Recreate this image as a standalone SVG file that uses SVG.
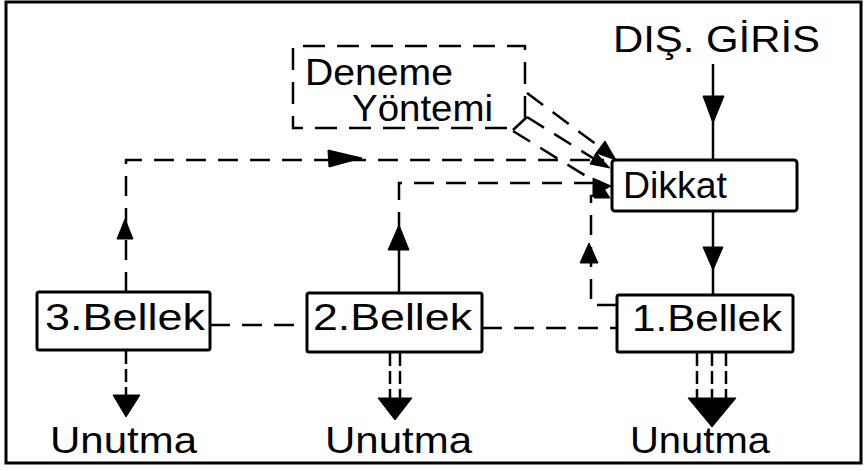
<svg xmlns="http://www.w3.org/2000/svg" width="864" height="471" viewBox="0 0 864 471">
<style>
.frame{fill:none;stroke:#000;stroke-width:3}
.box{fill:#fff;stroke:#000;stroke-width:3}
.dbox{fill:none;stroke:#000;stroke-width:2.5;stroke-dasharray:22 12}
.t{font-family:"Liberation Sans","DejaVu Sans",Arial,sans-serif;font-size:36px;fill:#000}
.solid{fill:none;stroke:#000;stroke-width:2.5}
.dash{fill:none;stroke:#000;stroke-width:2.5;stroke-dasharray:20 12}
.vdash{fill:none;stroke:#000;stroke-width:2.5;stroke-dasharray:13 5}
.ah{fill:#000;stroke:#000;stroke-width:1;stroke-linejoin:round}
</style>
<rect width="864" height="471" fill="#fff"/>
<rect class="frame" x="6" y="2" width="855" height="461"/>

<g id="connectors">
  <!-- DIS GIRIS -> Dikkat -->
  <line class="solid" x1="713" y1="64" x2="713" y2="160"/>
  <polygon class="ah" points="703,96 724,96 713,123"/>
  <!-- Dikkat -> 1.Bellek -->
  <line class="solid" x1="713" y1="211" x2="713" y2="295"/>
  <polygon class="ah" points="703,247 723,247 713,270"/>
  <!-- 1.Bellek -> Unutma -->
  <line class="vdash" x1="697" y1="353" x2="697" y2="400"/>
  <line class="vdash" x1="712" y1="353" x2="712" y2="400"/>
  <line class="vdash" x1="726" y1="353" x2="726" y2="400"/>
  <polygon class="ah" points="688,398 736,398 712,427"/>
  <!-- 2.Bellek -> Unutma -->
  <line class="vdash" x1="390" y1="353" x2="390" y2="400"/>
  <line class="vdash" x1="400" y1="353" x2="400" y2="400"/>
  <polygon class="ah" points="378,398 412,398 395,420"/>
  <!-- 3.Bellek -> Unutma -->
  <line class="vdash" x1="126" y1="351" x2="126" y2="397"/>
  <polygon class="ah" points="113,395 140,395 126,417"/>
  <!-- Bellek links -->
  <line class="dash" x1="210" y1="325" x2="307" y2="325"/>
  <line class="dash" x1="482" y1="328" x2="617" y2="328"/>
  <!-- 3.Bellek -> Dikkat -->
  <polyline class="dash" points="126,292 126,160 604,160"/>
  <polygon class="ah" points="117,239 133,239 125,219"/>
  <polygon class="ah" points="328,150 329,167 362,158"/>
  <!-- 2.Bellek -> Dikkat -->
  <polyline class="solid" points="399,293 399,250"/>
  <polyline class="dash" points="399,232 399,183 598,183"/>
  <polygon class="ah" points="388,250 409,250 399,225"/>
  <polygon class="ah" points="593,178 593,196 611,186"/>
  <!-- 1.Bellek feedback -> Dikkat -->
  <polyline class="dash" points="617,305 591,305 591,196 612,193"/>
  <polygon class="ah" points="580,263 598,263 589,243"/>
  <polygon class="ah" points="594,198 610,198 601,184"/>
  <!-- Deneme Yontemi -> Dikkat -->
  <polyline class="solid" points="513,130 527,117"/>
  <line class="dash" x1="527" y1="93" x2="601" y2="148"/>
  <polygon class="ah" points="596,153 605,141 616,160"/>
  <line class="dash" x1="527" y1="117" x2="596" y2="160"/>
  <polygon class="ah" points="590,164 596,153 610,168"/>
  <line class="dash" x1="513" y1="131" x2="594" y2="181"/>
</g>

<g id="dis-giris">
  <text class="t" x="613" y="52" font-size="37" textLength="207" lengthAdjust="spacingAndGlyphs">DIŞ. GİRİS</text>
</g>
<g id="deneme-yontemi">
  <path class="dbox" d="M525,118 L525,46 L293,46 L293,128 L513,128"/>
  <text class="t" x="305" y="85" font-size="34" textLength="148" lengthAdjust="spacingAndGlyphs">Deneme</text>
  <text class="t" x="352" y="121" font-size="34" textLength="141" lengthAdjust="spacingAndGlyphs">Yöntemi</text>
</g>
<g id="dikkat">
  <rect class="box" x="612" y="160" width="185" height="51" rx="3"/>
  <text class="t" x="623" y="198" textLength="104" lengthAdjust="spacingAndGlyphs">Dikkat</text>
</g>
<g id="bellek1">
  <rect class="box" x="617" y="295" width="176" height="57" rx="2"/>
  <text class="t" x="632" y="331" font-size="37" textLength="150" lengthAdjust="spacingAndGlyphs">1.Bellek</text>
</g>
<g id="bellek2">
  <rect class="box" x="307" y="293" width="175" height="59" rx="2"/>
  <text class="t" x="313" y="330" font-size="37" textLength="159" lengthAdjust="spacingAndGlyphs">2.Bellek</text>
</g>
<g id="bellek3">
  <rect class="box" x="37" y="292" width="173" height="58" rx="2"/>
  <text class="t" x="45" y="330" font-size="37" textLength="160" lengthAdjust="spacingAndGlyphs">3.Bellek</text>
</g>
<g id="unutma3">
  <text class="t" x="50" y="453" textLength="147" lengthAdjust="spacingAndGlyphs">Unutma</text>
</g>
<g id="unutma2">
  <text class="t" x="325" y="453" textLength="147" lengthAdjust="spacingAndGlyphs">Unutma</text>
</g>
<g id="unutma1">
  <text class="t" x="630" y="453" textLength="140" lengthAdjust="spacingAndGlyphs">Unutma</text>
</g>
</svg>
